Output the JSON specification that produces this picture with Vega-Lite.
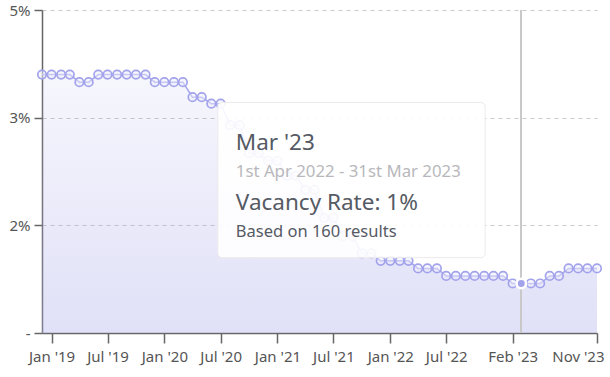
{
  "$schema": "https://vega.github.io/schema/vega-lite/v6.json",
  "width": 555,
  "height": 323,
  "autosize": "none",
  "padding": {"left": 42, "top": 10, "right": 13, "bottom": 44},
  "background": "white",
  "config": {
    "view": {"stroke": null},
    "font": "Noto Sans",
    "axis": {"labelFont": "Noto Sans", "labelFontSize": 15, "labelColor": "#555", "domainColor": "#666", "tickColor": "#666", "title": null}
  },
  "data": {"values": [
    {"month": "2018-12-01", "rate": 3.40},
    {"month": "2019-01-01", "rate": 3.40},
    {"month": "2019-02-01", "rate": 3.40},
    {"month": "2019-03-01", "rate": 3.40},
    {"month": "2019-04-01", "rate": 3.33},
    {"month": "2019-05-01", "rate": 3.33},
    {"month": "2019-06-01", "rate": 3.40},
    {"month": "2019-07-01", "rate": 3.40},
    {"month": "2019-08-01", "rate": 3.40},
    {"month": "2019-09-01", "rate": 3.40},
    {"month": "2019-10-01", "rate": 3.40},
    {"month": "2019-11-01", "rate": 3.40},
    {"month": "2019-12-01", "rate": 3.33},
    {"month": "2020-01-01", "rate": 3.33},
    {"month": "2020-02-01", "rate": 3.33},
    {"month": "2020-03-01", "rate": 3.33},
    {"month": "2020-04-01", "rate": 3.19},
    {"month": "2020-05-01", "rate": 3.19},
    {"month": "2020-06-01", "rate": 3.13},
    {"month": "2020-07-01", "rate": 3.13},
    {"month": "2020-08-01", "rate": 2.93},
    {"month": "2020-09-01", "rate": 2.93},
    {"month": "2020-10-01", "rate": 2.67},
    {"month": "2020-11-01", "rate": 2.67},
    {"month": "2020-12-01", "rate": 2.60},
    {"month": "2021-01-01", "rate": 2.60},
    {"month": "2021-02-01", "rate": 2.46},
    {"month": "2021-03-01", "rate": 2.46},
    {"month": "2021-04-01", "rate": 2.33},
    {"month": "2021-05-01", "rate": 2.33},
    {"month": "2021-06-01", "rate": 2.07},
    {"month": "2021-07-01", "rate": 2.07},
    {"month": "2021-08-01", "rate": 1.90},
    {"month": "2021-09-01", "rate": 1.90},
    {"month": "2021-10-01", "rate": 1.74},
    {"month": "2021-11-01", "rate": 1.74},
    {"month": "2021-12-01", "rate": 1.67},
    {"month": "2022-01-01", "rate": 1.67},
    {"month": "2022-02-01", "rate": 1.67},
    {"month": "2022-03-01", "rate": 1.67},
    {"month": "2022-04-01", "rate": 1.60},
    {"month": "2022-05-01", "rate": 1.60},
    {"month": "2022-06-01", "rate": 1.60},
    {"month": "2022-07-01", "rate": 1.53},
    {"month": "2022-08-01", "rate": 1.53},
    {"month": "2022-09-01", "rate": 1.53},
    {"month": "2022-10-01", "rate": 1.53},
    {"month": "2022-11-01", "rate": 1.53},
    {"month": "2022-12-01", "rate": 1.53},
    {"month": "2023-01-01", "rate": 1.53},
    {"month": "2023-02-01", "rate": 1.46},
    {"month": "2023-03-01", "rate": 1.46},
    {"month": "2023-04-01", "rate": 1.46},
    {"month": "2023-05-01", "rate": 1.46},
    {"month": "2023-06-01", "rate": 1.53},
    {"month": "2023-07-01", "rate": 1.53},
    {"month": "2023-08-01", "rate": 1.60},
    {"month": "2023-09-01", "rate": 1.60},
    {"month": "2023-10-01", "rate": 1.60},
    {"month": "2023-11-01", "rate": 1.60}
  ]},
  "encoding": {
    "x": {
      "field": "month", "type": "temporal",
      "scale": {"domain": [{"year": 2018, "month": 12, "date": 1}, {"year": 2023, "month": 11, "date": 1}], "nice": false},
      "axis": {
        "values": [
          {"year": 2019, "month": 1, "date": 1}, {"year": 2019, "month": 7, "date": 1},
          {"year": 2020, "month": 1, "date": 1}, {"year": 2020, "month": 7, "date": 1},
          {"year": 2021, "month": 1, "date": 1}, {"year": 2021, "month": 7, "date": 1},
          {"year": 2022, "month": 1, "date": 1}, {"year": 2022, "month": 7, "date": 1},
          {"year": 2023, "month": 2, "date": 1}, {"year": 2023, "month": 11, "date": 1}
        ],
        "format": "%b '%y", "tickSize": 10, "labelPadding": 6, "grid": false, "domainWidth": 1.5, "tickWidth": 1.5, "labelFlush": false,
        "labelAlign": {"condition": {"test": "year(datum.value) == 2023 && month(datum.value) == 10", "value": "right"}, "value": "center"},
        "labelOffset": {"condition": {"test": "year(datum.value) == 2023 && month(datum.value) == 10", "value": 7}, "value": 0}
      }
    },
    "y": {
      "field": "rate", "type": "quantitative",
      "scale": {"domain": [1, 4], "nice": false, "zero": false},
      "axis": {
        "values": [1, 2, 3, 4],
        "labelExpr": "datum.value == 4 ? '5%' : datum.value == 1 ? '-' : datum.value + '%'",
        "tickSize": 8, "labelPadding": 4, "grid": true, "gridDash": [4, 4], "gridColor": "#c8c8c8", "domainWidth": 1.5, "tickWidth": 1.5
      }
    }
  },
  "layer": [
    {
      "mark": {
        "type": "area", "interpolate": "linear", "clip": true,
        "color": {"gradient": "linear", "x1": 0, "y1": 0, "x2": 0, "y2": 1,
          "stops": [{"offset": 0, "color": "rgba(170,170,235,0.10)"}, {"offset": 1, "color": "rgba(170,170,235,0.36)"}]}
      },
      "encoding": {"y2": {"datum": 1}}
    },
    {
      "mark": {"type": "rule", "color": "#c8c8c8", "strokeWidth": 1.2},
      "encoding": {"x": {"datum": {"year": 2023, "month": 3, "date": 1}, "type": "temporal"}, "y": {"datum": 4}, "y2": {"datum": 1}}
    },
    {"mark": {"type": "line", "color": "#a3a3ec", "strokeWidth": 1.5}},
    {"mark": {"type": "point", "shape": "circle", "filled": false, "size": 72, "stroke": "#a3a3ec", "strokeWidth": 1.7, "fill": "#eeeefb", "fillOpacity": 0.5}},
    {
      "transform": [{"filter": "month(datum.month) == 2 && year(datum.month) == 2023"}],
      "mark": {"type": "point", "shape": "circle", "filled": true, "size": 90, "fill": "#a3a3ec", "fillOpacity": 1, "stroke": "white", "strokeWidth": 2.5, "strokeOpacity": 1},
      "encoding": {"y": {"field": "rate", "type": "quantitative"}}
    },
    {
      "transform": [{"filter": "month(datum.month) == 2 && year(datum.month) == 2023"}],
      "mark": {"type": "rect", "fill": "#ffffff", "fillOpacity": 0.9, "cornerRadius": 4, "stroke": "#ebebeb", "strokeWidth": 1},
      "encoding": {
        "x": {"datum": {"year": 2020, "month": 6, "date": 22}, "type": "temporal"},
        "x2": {"datum": {"year": 2022, "month": 11, "date": 4}},
        "y": {"datum": 3.14}, "y2": {"datum": 1.70}
      }
    },
    {
      "transform": [{"filter": "month(datum.month) == 2 && year(datum.month) == 2023"}],
      "mark": {"type": "text", "align": "left", "baseline": "alphabetic", "dx": 18, "font": "Noto Sans", "fontSize": 22.5, "color": "#555a64"},
      "encoding": {
        "x": {"datum": {"year": 2020, "month": 6, "date": 22}, "type": "temporal"},
        "y": {"datum": 2.70},
        "text": {"value": "Mar '23"}
      }
    },
    {
      "transform": [{"filter": "month(datum.month) == 2 && year(datum.month) == 2023"}],
      "mark": {"type": "text", "align": "left", "baseline": "alphabetic", "dx": 18, "font": "Noto Sans", "fontSize": 16.8, "color": "#b8b8bc"},
      "encoding": {
        "x": {"datum": {"year": 2020, "month": 6, "date": 22}, "type": "temporal"},
        "y": {"datum": 2.45},
        "text": {"value": "1st Apr 2022 - 31st Mar 2023"}
      }
    },
    {
      "transform": [{"filter": "month(datum.month) == 2 && year(datum.month) == 2023"}],
      "mark": {"type": "text", "align": "left", "baseline": "alphabetic", "dx": 18, "font": "Noto Sans", "fontSize": 22.5, "color": "#555a64"},
      "encoding": {
        "x": {"datum": {"year": 2020, "month": 6, "date": 22}, "type": "temporal"},
        "y": {"datum": 2.145},
        "text": {"value": "Vacancy Rate: 1%"}
      }
    },
    {
      "transform": [{"filter": "month(datum.month) == 2 && year(datum.month) == 2023"}],
      "mark": {"type": "text", "align": "left", "baseline": "alphabetic", "dx": 18, "font": "Noto Sans", "fontSize": 16.5, "color": "#555a64"},
      "encoding": {
        "x": {"datum": {"year": 2020, "month": 6, "date": 22}, "type": "temporal"},
        "y": {"datum": 1.895},
        "text": {"value": "Based on 160 results"}
      }
    }
  ]
}
